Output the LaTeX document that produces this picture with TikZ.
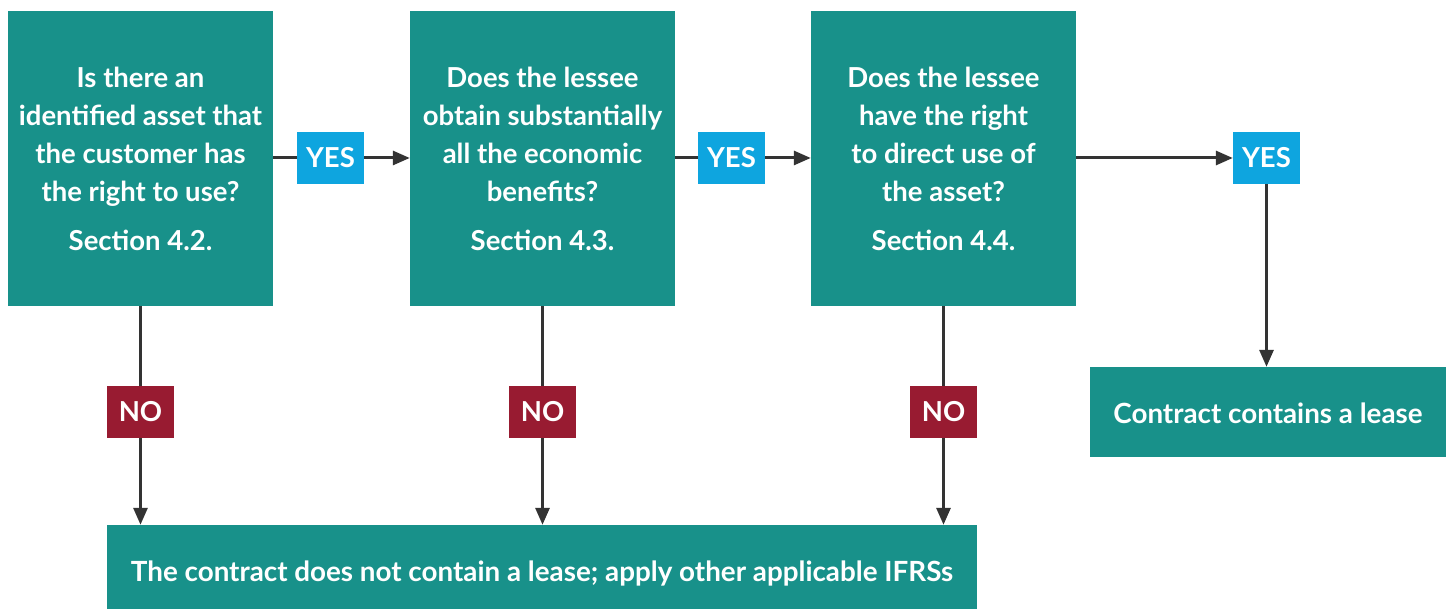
\documentclass[tikz,border=0pt]{standalone}
\usepackage{fontspec}
\setmainfont{Lato}
\usetikzlibrary{arrows.meta}
\definecolor{teal1}{HTML}{18918A}
\definecolor{blue1}{HTML}{0EA5DF}
\definecolor{red1}{HTML}{981B31}
\definecolor{line1}{HTML}{333333}
\tikzset{
  qbox/.style={fill=teal1, minimum width=265pt, minimum height=295pt, inner sep=0pt, text=white, align=center, font=\fontsize{27.5}{38}\selectfont\bfseries},
  lbl/.style={minimum width=67pt, minimum height=52pt, inner sep=0pt, text=white, text height=19.5pt, text depth=0pt, font=\fontsize{27.5}{30}\selectfont\bfseries},
  yesbox/.style={lbl, fill=blue1},
  nobox/.style={lbl, fill=red1},
  resbox/.style={fill=teal1, inner sep=0pt, text=white, text depth=0pt, font=\fontsize{27.8}{30}\selectfont\bfseries},
  conn/.style={draw=line1, line width=3pt},
  arr/.style={conn, -{Triangle[length=17pt,width=14pt]}},
}
\begin{document}
\begin{tikzpicture}[x=1pt,y=-1pt]
\useasboundingbox (0,0) rectangle (1451,609);
\node[qbox] (q1) at (140.5,158.5) {Is there an\\identified asset that\\the customer has\\the right to use?\\[11pt]Section 4.2.};
\node[qbox] (q2) at (542.5,158.5) {Does the lessee\\obtain substantially\\all the economic\\benefits?\\[11pt]Section 4.3.};
\node[qbox] (q3) at (943.5,158.5) {Does the lessee\\have the right\\to direct use of\\the asset?\\[11pt]Section 4.4.};
\node[yesbox] (y1) at (330.5,158) {YES};
\node[yesbox] (y2) at (731.5,158) {YES};
\node[yesbox] (y3) at (1266.5,158) {YES};
\node[nobox] (n1) at (140.5,412) {NO};
\node[nobox] (n2) at (542.5,412) {NO};
\node[nobox] (n3) at (943.5,412) {NO};
\node[resbox, text height=22pt, minimum width=356pt, minimum height=90pt] (lease) at (1268,412) {Contract contains a lease};
\node[resbox, text height=28pt, minimum width=870pt, minimum height=84pt] (nolease) at (542,567) {The contract does not contain a lease; apply other applicable IFRSs};
\draw[conn] (q1.east |- y1) -- (y1.west);
\draw[arr] (y1.east) -- (q2.west |- y1);
\draw[conn] (q2.east |- y2) -- (y2.west);
\draw[arr] (y2.east) -- (q3.west |- y2);
\draw[arr] (q3.east |- y3) -- (y3.west);
\draw[arr] (y3.south) -- (y3.south |- lease.north);
\draw[conn] (q1.south) -- (n1.north);
\draw[conn] (q2.south) -- (n2.north);
\draw[conn] (q3.south) -- (n3.north);
\draw[arr] (n1.south) -- (n1.south |- nolease.north);
\draw[arr] (n2.south) -- (n2.south |- nolease.north);
\draw[arr] (n3.south) -- (n3.south |- nolease.north);
\end{tikzpicture}
\end{document}
